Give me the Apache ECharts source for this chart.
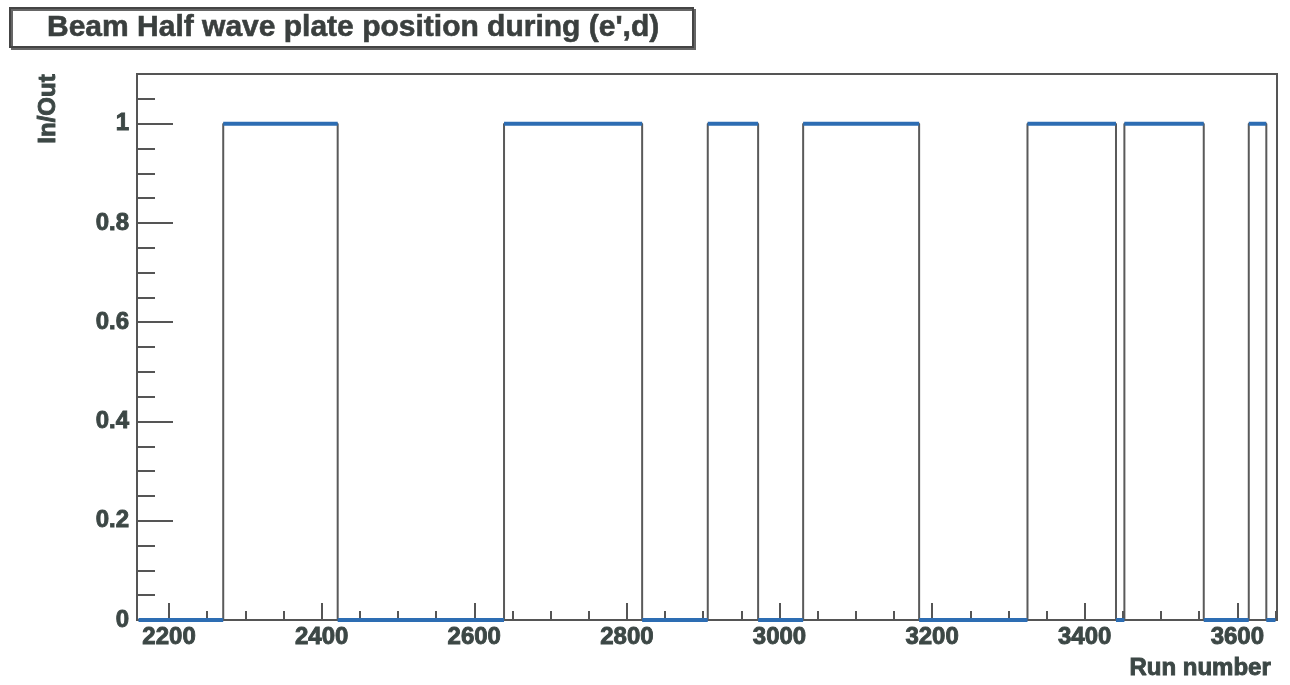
<!DOCTYPE html>
<html>
<head>
<meta charset="utf-8">
<script src="https://cdn.jsdelivr.net/npm/echarts@6/dist/echarts.min.js"></script>
<style>
html,body{margin:0;padding:0;background:#fff;}
#chart{width:1290px;height:685px;}
</style>
</head>
<body>
<div id="chart"></div>
<script>
// ---- data ----
const titleText = "Beam Half wave plate position during (e',d)";
const xName = "Run number";
const yName = "In/Out";
const runFirst = 2160;   // first run in the plot (plate Out)
const runLast = 3650;    // last run in the plot
const inStarts = [2271, 2639, 2906, 3031, 3325, 3452, 3615]; // run where plate goes In
const inEnds   = [2421, 2820, 2972, 3183, 3441, 3556, 3638]; // run where plate goes Out
const xMajorTicks = [2200, 2400, 2600, 2800, 3000, 3200, 3400, 3600];
const yMajorTicks = [0, 0.2, 0.4, 0.6, 0.8, 1];
const xRange = [2158, 3652];
const yRange = [0, 1.1];

// ---- build series ----
const stepPts = [[runFirst, 0]];
for (let i = 0; i < inStarts.length; i++) {
  stepPts.push([inStarts[i], 0], [inStarts[i], 1], [inEnds[i], 1], [inEnds[i], 0]);
}
stepPts.push([runLast, 0]);

// horizontal parts only (gaps at the vertical transitions)
const flatPts = [];
for (let i = 0; i < stepPts.length - 1; i++) {
  const a = stepPts[i], b = stepPts[i + 1];
  if (a[1] === b[1]) { flatPts.push(a, b, [b[0], '-']); }
}

const xMinorTicks = [];
for (let v = 2200; v <= 3650; v += 50) if (v % 200 !== 0) xMinorTicks.push(v);
const yMinorTicks = [];
for (let k = 1; k <= 21; k++) { const v = +(k * 0.05).toFixed(2); if (Math.abs(v * 5 - Math.round(v * 5)) > 1e-6) yMinorTicks.push(v); }

const txtColor = '#3c4745';
const lineGrey = '#555';
const font = '"Liberation Sans", Arial, sans-serif';
const heavy = {textBorderColor: txtColor, textBorderWidth: 0.9};

const chart = echarts.init(document.getElementById('chart'), null, {renderer: 'canvas'});
chart.setOption({
  animation: false,
  backgroundColor: '#fff',
  title: {
    text: titleText,
    left: 10, top: 8,
    padding: [4, 34, 4, 37],
    borderColor: '#444', borderWidth: 2,
    backgroundColor: '#fff',
    shadowColor: '#666', shadowOffsetX: 2, shadowOffsetY: 2, shadowBlur: 0,
    textStyle: {fontFamily: font, fontSize: 30, fontWeight: 'bold', color: '#3a3f3e', lineHeight: 31, textBorderColor: '#3a3f3e', textBorderWidth: 0.6}
  },
  grid: {left: 137, right: 13, top: 74, bottom: 65, show: true, borderColor: lineGrey, borderWidth: 2, backgroundColor: 'transparent'},
  xAxis: [
    {
      type: 'value', min: xRange[0], max: xRange[1],
      axisLine: {show: true, lineStyle: {color: lineGrey, width: 2}},
      axisTick: {show: true, inside: true, length: 17, customValues: xMajorTicks, lineStyle: {color: lineGrey, width: 2}},
      axisLabel: Object.assign({show: true, customValues: xMajorTicks, formatter: v => String(v), fontFamily: font, fontSize: 24, fontWeight: 'bold', color: txtColor, margin: 5}, heavy),
      splitLine: {show: false}
    },
    {
      type: 'value', min: xRange[0], max: xRange[1], position: 'bottom',
      axisLine: {show: false},
      axisTick: {show: true, inside: true, length: 9, customValues: xMinorTicks, lineStyle: {color: lineGrey, width: 2}},
      axisLabel: {show: false},
      splitLine: {show: false}
    }
  ],
  yAxis: [
    {
      type: 'value', min: yRange[0], max: yRange[1],
      axisLine: {show: true, lineStyle: {color: lineGrey, width: 2}},
      axisTick: {show: true, inside: true, length: 36, customValues: yMajorTicks, lineStyle: {color: lineGrey, width: 2}},
      axisLabel: Object.assign({show: true, customValues: yMajorTicks, formatter: v => String(v), fontFamily: font, fontSize: 24, fontWeight: 'bold', color: txtColor, margin: 8}, heavy),
      splitLine: {show: false}
    },
    {
      type: 'value', min: yRange[0], max: yRange[1], position: 'left',
      axisLine: {show: false},
      axisTick: {show: true, inside: true, length: 18, customValues: yMinorTicks, lineStyle: {color: lineGrey, width: 2}},
      axisLabel: {show: false},
      splitLine: {show: false}
    }
  ],
  graphic: [
    {type: 'text', left: 1129, top: 656, style: {text: xName, font: 'bold 24px ' + font, fill: txtColor, stroke: txtColor, lineWidth: 0.9}},
    {type: 'text', x: 48, y: 109, rotation: Math.PI / 2,
     style: {text: yName, font: 'bold 24px ' + font, fill: txtColor, stroke: txtColor, lineWidth: 0.9, align: 'center', verticalAlign: 'middle'}}
  ],
  series: [
    {
      type: 'line', xAxisIndex: 0, yAxisIndex: 0, data: stepPts,
      showSymbol: false, symbol: 'none',
      lineStyle: {color: '#5a5a5a', width: 2}, z: 2
    },
    {
      type: 'line', xAxisIndex: 0, yAxisIndex: 0, data: flatPts,
      showSymbol: false, symbol: 'none', connectNulls: false,
      lineStyle: {color: '#2d6db3', width: 4}, z: 3
    }
  ]
});
</script>
</body>
</html>
